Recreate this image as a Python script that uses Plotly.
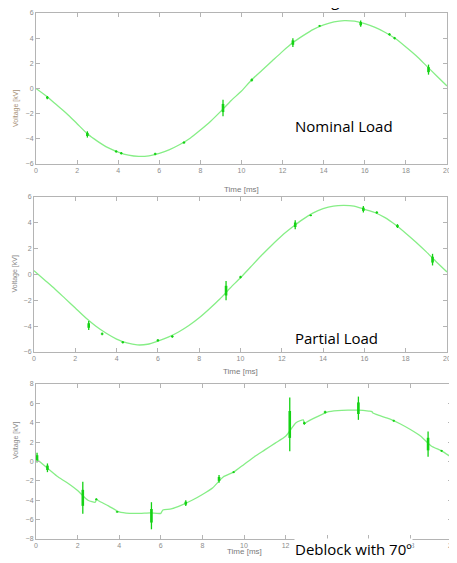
import plotly.graph_objects as go

# ---------------- data ----------------
time_ms = [0, 0.5, 1, 1.5, 2, 2.5, 3, 3.5, 4, 4.5, 5, 5.5, 6, 6.5, 7, 7.5, 8, 8.5, 9, 9.5, 10,
           10.5, 11, 11.5, 12, 12.5, 13, 13.5, 14, 14.5, 15, 15.5, 16, 16.5, 17, 17.5, 18, 18.5, 19, 19.5, 20]

nominal_v = [0.0, -0.6, -1.3, -2.0, -2.8, -3.6, -4.2, -4.7, -5.05, -5.3, -5.4, -5.35, -5.15, -4.85, -4.45,
             -3.95, -3.3, -2.6, -1.8, -0.95, -0.2, 0.7, 1.45, 2.2, 2.95, 3.65, 4.2, 4.7, 5.05, 5.3, 5.4,
             5.35, 5.15, 4.85, 4.45, 3.95, 3.3, 2.6, 1.8, 1.0, 0.2]

partial_v = [0.3, -0.4, -1.1, -1.85, -2.6, -3.35, -4.0, -4.55, -5.0, -5.3, -5.45, -5.4, -5.15, -4.85, -4.45,
             -3.95, -3.35, -2.65, -1.9, -1.05, -0.25, 0.6, 1.45, 2.25, 3.0, 3.65, 4.25, 4.75, 5.1, 5.3, 5.35,
             5.3, 5.05, 4.8, 4.4, 3.85, 3.2, 2.5, 1.75, 0.95, 0.2]

deblock_t = [0, 0.5, 1, 1.5, 2, 2.5, 2.85, 2.9, 3, 3.5, 4, 4.5, 5, 5.5, 6, 6.1, 6.5, 7, 7.5, 8, 8.5, 9, 9.5,
             10, 10.5, 11, 11.5, 12, 12.5, 12.85, 12.9, 13, 13.5, 14, 14.5, 15, 15.5, 16, 16.15, 16.2, 16.5,
             17, 17.5, 18, 18.5, 19, 19.5, 20]
deblock_v = [0.3, -0.6, -1.5, -2.2, -3.0, -4.0, -4.2, -3.9, -4.05, -4.6, -5.2, -5.35, -5.35, -5.3, -5.35, -5.0,
             -4.9, -4.5, -4.0, -3.4, -2.7, -1.6, -1.1, -0.3, 0.5, 1.2, 1.9, 2.6, 4.0, 4.3, 3.9, 4.05, 4.6, 5.1,
             5.25, 5.3, 5.3, 5.2, 5.15, 5.0, 4.75, 4.4, 3.9, 3.3, 2.6, 1.6, 1.1, 0.4]

# transient bursts: time, lowest and highest voltage reached
nominal_burst_t = [0.55, 2.5, 3.9, 4.15, 5.8, 7.2, 9.1, 10.5, 12.5, 13.8, 15.8, 17.2, 17.45, 19.1]
nominal_burst_lo = [-0.85, -3.9, -5.1, -5.25, -5.3, -4.4, -2.2, 0.55, 3.3, 4.9, 4.9, 4.2, 3.9, 1.1]
nominal_burst_hi = [-0.6, -3.4, -4.9, -5.05, -5.1, -4.2, -0.9, 0.8, 4.0, 5.05, 5.4, 4.4, 4.1, 1.9]

partial_burst_t = [2.65, 3.3, 4.3, 6.0, 6.7, 9.3, 10.0, 12.65, 13.4, 15.95, 16.6, 17.6, 19.3]
partial_burst_lo = [-4.3, -4.7, -5.35, -5.2, -4.9, -2.0, -0.3, 3.5, 4.5, 4.8, 4.7, 3.6, 0.7]
partial_burst_hi = [-3.6, -4.5, -5.15, -5.0, -4.7, -0.5, -0.1, 4.2, 4.65, 5.3, 4.9, 3.9, 1.6]

deblock_burst_t = [0.05, 0.55, 2.25, 2.9, 3.9, 5.55, 7.2, 8.8, 9.5, 12.2, 12.9, 13.9, 15.5, 17.2, 18.85, 19.5]
deblock_burst_lo = [-0.1, -1.1, -5.4, -4.0, -5.3, -7.0, -4.6, -2.2, -1.2, 1.05, 3.8, 4.95, 4.3, 4.1, 0.5, 1.0]
deblock_burst_hi = [0.9, -0.2, -2.1, -3.8, -5.1, -4.2, -4.0, -1.4, -1.0, 6.6, 4.1, 5.25, 6.7, 4.3, 3.1, 1.2]

x_ticks = [0, 2, 4, 6, 8, 10, 12, 14, 16, 18, 20]
y_ticks_a = [-6, -4, -2, 0, 2, 4, 6]
y_ticks_b = [-8, -6, -4, -2, 0, 2, 4, 6, 8]

# ---------------- figure ----------------
OFF = 8                       # the page body has an 8 px margin
W, H = 457 - OFF, 563 - OFF
LINE = "#86ee86"
BURST = "#14d214"


def fx(px):
    return (px - OFF) / W


def fy(py):
    return 1 - (py - OFF) / H


panels = [
    dict(t=time_ms, v=nominal_v, bt=nominal_burst_t, blo=nominal_burst_lo, bhi=nominal_burst_hi,
         px=(36, 447), py=(13, 164), yr=(-6, 6), yt=y_ticks_a, ycol="#a89278"),
    dict(t=time_ms, v=partial_v, bt=partial_burst_t, blo=partial_burst_lo, bhi=partial_burst_hi,
         px=(34, 447), py=(197, 352), yr=(-6, 6), yt=y_ticks_a, ycol="#8a8a8a"),
    dict(t=deblock_t, v=deblock_v, bt=deblock_burst_t, blo=deblock_burst_lo, bhi=deblock_burst_hi,
         px=(36, 452), py=(384, 539), yr=(-8, 8), yt=y_ticks_b, ycol="#8a8a8a"),
]

fig = go.Figure()
layout = dict(width=W, height=H, margin=dict(l=0, r=0, t=0, b=0, autoexpand=False), showlegend=False,
              paper_bgcolor="white", plot_bgcolor="white", annotations=[])

for i, p in enumerate(panels, start=1):
    xa = "x" if i == 1 else f"x{i}"
    ya = "y" if i == 1 else f"y{i}"
    fig.add_trace(go.Scatter(x=p["t"], y=p["v"], mode="lines",
                             line=dict(color=LINE, width=1.3, shape="spline", smoothing=0.6),
                             xaxis=xa, yaxis=ya, hoverinfo="skip"))
    bx, by, cx, cy = [], [], [], []
    for t, lo, hi in zip(p["bt"], p["blo"], p["bhi"]):
        bx += [t, t, None]
        by += [lo, hi, None]
        q = (hi - lo) * 0.25
        cx += [t, t, None]
        cy += [lo + q, hi - q, None]
    fig.add_trace(go.Scatter(x=bx, y=by, mode="lines", line=dict(color=BURST, width=1.3),
                             xaxis=xa, yaxis=ya, hoverinfo="skip"))
    fig.add_trace(go.Scatter(x=cx, y=cy, mode="lines", line=dict(color=BURST, width=2.6),
                             xaxis=xa, yaxis=ya, hoverinfo="skip"))

    xd = [fx(p["px"][0]), fx(p["px"][1])]
    yd = [fy(p["py"][1]), fy(p["py"][0])]
    axcommon = dict(showgrid=False, zeroline=False, showline=True, linecolor="#b4b4b4", linewidth=1,
                    mirror="ticks", ticks="inside", ticklen=4, tickcolor="#b4b4b4", automargin=False,
                    tickfont=dict(family="Liberation Sans, Arial", size=7, color="#8c8c8c"))
    layout["xaxis" if i == 1 else f"xaxis{i}"] = dict(axcommon, domain=xd, range=[0, 20], tickvals=x_ticks,
                                                       anchor=ya)
    layout["yaxis" if i == 1 else f"yaxis{i}"] = dict(axcommon, domain=yd, range=list(p["yr"]), tickvals=p["yt"],
                                                       anchor=xa)
    # axis titles
    layout["annotations"].append(dict(text="Time [ms]", xref="paper", yref="paper",
                                      x=fx((p["px"][0] + p["px"][1]) / 2), y=fy(p["py"][1] + 19),
                                      showarrow=False, font=dict(family="Liberation Sans, Arial", size=8, color="#7a7a7a")))
    layout["annotations"].append(dict(text="Voltage [kV]", xref="paper", yref="paper",
                                      x=fx(p["px"][0] - 26), y=fy((p["py"][0] + p["py"][1]) / 2),
                                      textangle=-90, showarrow=False,
                                      font=dict(family="Liberation Sans, Arial", size=7, color=p["ycol"])))

# case labels
layout["annotations"].append(dict(text="Nominal Load", xref="paper", yref="paper", x=fx(293), y=fy(126),
                                  xanchor="left", yanchor="middle", showarrow=False,
                                  font=dict(family="Open Sans", size=15, color="black")))
layout["annotations"].append(dict(text="Partial Load", xref="paper", yref="paper", x=fx(293), y=fy(338),
                                  xanchor="left", yanchor="middle", showarrow=False,
                                  font=dict(family="Open Sans", size=15, color="black")))
layout["annotations"].append(dict(text="Deblock with 70º", xref="paper", yref="paper", x=fx(294), y=fy(549),
                                  xanchor="left", yanchor="middle", showarrow=False, bgcolor="white", borderpad=0,
                                  font=dict(family="Open Sans", size=15, color="black")))
# cropped heading at the very top
layout["annotations"].append(dict(text="one side of the saturation winding", xref="paper", yref="paper",
                                  x=fx(220), y=1, xanchor="center", yanchor="bottom", yshift=-4, showarrow=False,
                                  font=dict(family="Open Sans", size=15, color="black")))

fig.update_layout(**layout)
fig.write_html("out.html")
